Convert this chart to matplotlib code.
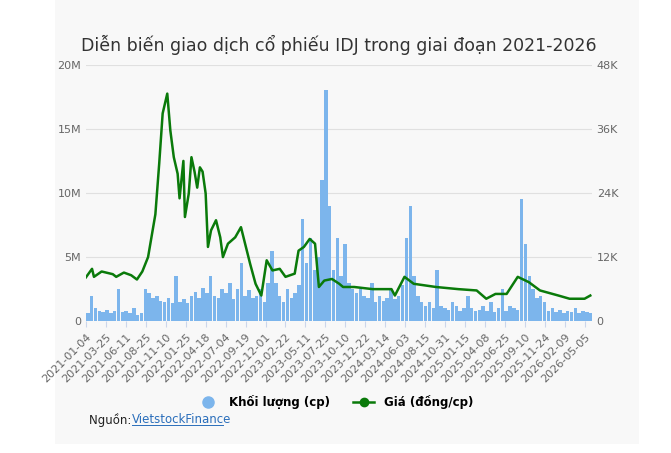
import matplotlib
matplotlib.use("Agg")
import matplotlib.pyplot as plt
from matplotlib.lines import Line2D
from matplotlib.patches import Patch

tick_labels = ["2021-01-04","2021-03-25","2021-06-11","2021-08-25","2021-11-10","2022-01-25",
               "2022-04-18","2022-07-04","2022-09-19","2022-12-01","2023-02-22","2023-05-11",
               "2023-07-25","2023-10-10","2023-12-22","2024-03-14","2024-06-03","2024-08-15",
               "2024-10-31","2025-01-15","2025-04-08","2025-06-25","2025-09-10","2025-11-24",
               "2026-02-09","2026-05-05"]
sessions_per_tick = 52
total_sessions = 1318

# Volume (million shares), one value per 10 trading sessions
volume_m = [0.6,2.0,1.0,0.8,0.7,0.9,0.6,0.8,2.5,0.7,0.8,0.6,1.0,0.5,0.6,
            2.5,2.2,1.8,2.0,1.6,1.5,1.8,1.4,3.5,1.5,1.7,1.4,
            2.0,2.3,1.8,2.6,2.2,3.5,2.0,1.8,2.5,2.2,3.0,1.7,2.5,4.5,2.0,2.4,1.8,2.0,2.5,1.5,3.0,
            5.5,3.0,2.0,1.5,2.5,1.8,2.2,2.8,
            8.0,4.5,6.5,4.0,5.0,11.0,18.0,
            9.0,4.0,6.5,3.5,6.0,3.0,2.5,2.2,2.5,
            2.0,1.8,3.0,1.5,2.0,1.6,1.8,2.5,1.7,2.0,2.8,6.5,9.0,
            3.5,2.0,1.5,1.2,1.5,1.0,4.0,1.2,1.0,0.9,1.5,1.2,0.8,1.0,2.0,1.0,0.8,0.9,1.2,0.8,1.5,0.7,1.0,2.5,0.8,1.2,1.0,0.9,
            9.5,6.0,3.5,2.5,1.8,2.0,1.5,
            0.8,1.0,0.7,0.9,0.6,0.8,0.7,1.0,0.6,0.8,0.7,0.6,2.0]
volume_step = 10

# Price (thousand VND) at trading-session numbers
price_session = [0,16,21,41,70,79,99,118,133,147,162,181,191,200,212,220,229,239,244,254,258,268,275,283,
                 290,297,304,312,318,326,339,350,357,370,389,404,413,428,442,457,471,486,505,520,544,554,
                 568,583,597,607,621,641,660,670,699,747,796,805,830,854,883,912,970,1018,1043,1067,1096,
                 1125,1154,1183,1231,1260,1299,1314]
price_k = [8.2,9.8,8.3,9.3,8.8,8.3,9.1,8.6,7.8,9.3,12,20,29.5,38.9,42.6,35.7,30.7,27.6,23,30,19.5,23.9,30.7,28,
           25,28.8,28,23.9,13.9,17,18.9,15.7,12,14.5,15.7,17.6,15,10.7,7,4.8,11.4,9.5,9.8,8.3,8.9,13.2,
           13.9,15.4,14.5,6.4,7.6,7.9,7,6.4,6.4,6,6,4.8,8.3,7,6.7,6.4,6,5.75,4.2,5.1,5.1,
           8.3,7.3,5.75,4.8,4.2,4.2,4.8]

fig = plt.figure(figsize=(6.71, 4.53), dpi=100)
fig.patch.set_facecolor("white")
bg = fig.add_axes([0.082, 0.02, 0.87, 0.98])
bg.set_facecolor("#f8f8f8"); bg.set_xticks([]); bg.set_yticks([])
for s in bg.spines.values(): s.set_visible(False)
bg.set_zorder(-10)

ax = fig.add_axes([0.128, 0.291, 0.754, 0.566])
ax.set_facecolor("#f8f8f8")
xs = [i * volume_step + volume_step / 2 for i in range(len(volume_m))]
ax.bar(xs, [v * 1e6 for v in volume_m], width=volume_step * 0.9, color="#7cb5ec", linewidth=0)
ax.set_ylim(0, 20e6)
ax.set_yticks([0, 5e6, 10e6, 15e6, 20e6])
ax.set_yticklabels(["0", "5M", "10M", "15M", "20M"])
ax.set_xlim(0, total_sessions)
ax.set_xticks([i * sessions_per_tick for i in range(len(tick_labels))])
ax.set_xticklabels(tick_labels, rotation=45, ha="right", rotation_mode="anchor")
ax.grid(axis="y", color="#e0e0e0", linewidth=0.8)
ax.set_axisbelow(True)
for s in ax.spines.values(): s.set_visible(False)
ax.tick_params(colors="#666666", labelsize=8, length=0)
ax.tick_params(axis="x", length=4, color="#ccd6eb")

ax2 = ax.twinx()
ax2.plot(price_session, [p * 1000 for p in price_k], color="#0a7a0a", linewidth=1.8)
ax2.set_ylim(0, 48000)
ax2.set_yticks([0, 12000, 24000, 36000, 48000])
ax2.set_yticklabels(["0", "12K", "24K", "36K", "48K"])
for s in ax2.spines.values(): s.set_visible(False)
ax2.tick_params(colors="#666666", labelsize=8, length=0)

fig.text(0.505, 0.9, "Diễn biến giao dịch cổ phiếu IDJ trong giai đoạn 2021-2026",
         ha="center", va="center", fontsize=12.5, color="#333333")

handles = [Line2D([0], [0], marker="o", color="none", markerfacecolor="#7cb5ec", markeredgecolor="#7cb5ec", markersize=8),
           Line2D([0], [0], marker="o", color="#0a7a0a", markersize=6, linewidth=1.8)]
fig.legend(handles, ["Khối lượng (cp)", "Giá (đồng/cp)"], loc="center", bbox_to_anchor=(0.5, 0.112),
           ncol=2, frameon=False, prop={"weight": "bold", "size": 8.5}, columnspacing=2, handlelength=1.8)
fig.text(0.132, 0.073, "Nguồn: ", fontsize=8.5, color="#222222", va="center")
fig.text(0.196, 0.073, "VietstockFinance", fontsize=8.5, color="#2a6ebb", va="center",
         fontdict={"fontweight": "normal"}).set_url(None)
fig.add_artist(Line2D([0.196, 0.332], [0.062, 0.062], color="#2a6ebb", linewidth=0.7))

fig.savefig("out.png", dpi=100)
